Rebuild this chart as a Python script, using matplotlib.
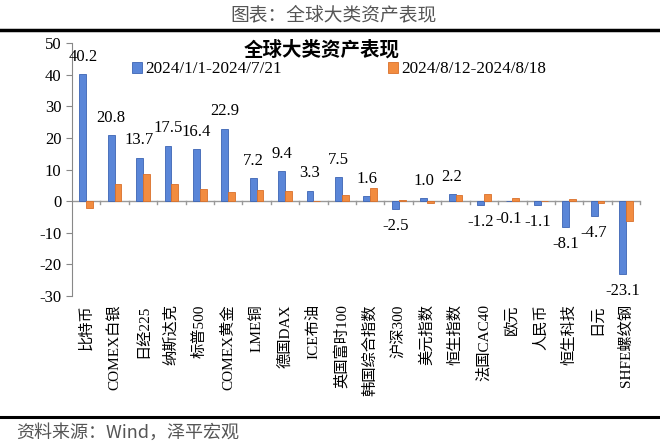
import matplotlib
matplotlib.use('Agg')
import matplotlib.pyplot as plt
import numpy as np

plt.rcParams['font.family'] = ['Liberation Serif', 'Noto Sans CJK SC']
plt.rcParams['axes.unicode_minus'] = False

# data
assets = ['比特币', 'COMEX白银', '日经225', '纳斯达克', '标普500', 'COMEX黄金', 'LME铜',
          '德国DAX', 'ICE布油', '英国富时100', '韩国综合指数', '沪深300', '美元指数',
          '恒生指数', '法国CAC40', '欧元', '人民币', '恒生科技', '日元', 'SHFE螺纹钢']
ytd = [40.2, 20.8, 13.7, 17.5, 16.4, 22.9, 7.2, 9.4, 3.3, 7.5,
       1.6, -2.5, 1.0, 2.2, -1.2, -0.1, -1.1, -8.1, -4.7, -23.1]
week = [-2.3, 5.5, 8.6, 5.4, 3.9, 2.8, 3.5, 3.3, 0.0, 1.8,
        4.1, 0.3, -0.7, 2.0, 2.4, 1.0, 0.0, 0.6, -0.7, -6.4]
label_ytd = '2024/1/1-2024/7/21'
label_week = '2024/8/12-2024/8/18'

fig = plt.figure(figsize=(6.6, 4.45), dpi=100)
ax = fig.add_axes([0.109, 0.335, 0.861, 0.568])

x = np.arange(len(assets))
w = 0.24
ax.bar(x - w/2, ytd, w, color='#5A86D8', edgecolor='#3C64B4', linewidth=0.6,
       label=label_ytd)
ax.bar(x + w/2, week, w, color='#F28C40', edgecolor='#D9702A', linewidth=0.6,
       label=label_week)

# value labels for the first series
for xi, v in zip(x, ytd):
    off = 12.5 if v >= 0 else -12.5
    ax.annotate(f'{v:.1f}', (xi - w/2, v), xytext=(0, off), textcoords='offset points',
                ha='center', va='center', fontsize=12)

ax.set_ylim(-30, 50)
ax.set_xlim(-0.5, len(assets) - 0.5)
ax.set_yticks(np.arange(-30, 51, 10))
ax.tick_params(axis='y', labelsize=12, length=4, color='#888888')

# zero line with boundary ticks
ax.axhline(0, color='#999999', lw=1, zorder=0)
for bx in np.arange(0.5, len(assets), 1):
    ax.plot([bx, bx], [0, -0.9], color='#999999', lw=1, clip_on=False)

ax.set_xticks(x)
ax.set_xticklabels(assets, rotation=90, fontsize=11, va='top', ha='center')
ax.tick_params(axis='x', length=0, pad=6)

for s in ['top', 'right', 'bottom']:
    ax.spines[s].set_visible(False)
ax.spines['left'].set_color('#888888')

ax.text(0.44, 0.975, '全球大类资产表现', transform=ax.transAxes, ha='center', va='center',
        fontsize=14, fontweight='bold', family=['Noto Sans CJK SC'])
ax.legend(loc='upper left', bbox_to_anchor=(0.093, 0.955), ncol=2, frameon=False,
          fontsize=12.3, handlelength=0.6, handleheight=0.6, handletextpad=0.2,
          columnspacing=6.2, borderaxespad=0)

# header / footer
fig.text(0.505, 0.966, '图表：全球大类资产表现', ha='center', va='center', fontsize=13.5,
         color='#555555', family=['Noto Sans CJK SC'])
fig.add_artist(plt.Line2D([0, 1], [0.933, 0.933], color='black', lw=2.5))
fig.add_artist(plt.Line2D([0, 1], [0.063, 0.063], color='black', lw=2.2))
fig.text(0.025, 0.027, '资料来源：Wind，泽平宏观', ha='left', va='center', fontsize=13,
         color='#555555', style='italic', family=['Noto Sans CJK SC'])

fig.savefig('out.png', dpi=100)
